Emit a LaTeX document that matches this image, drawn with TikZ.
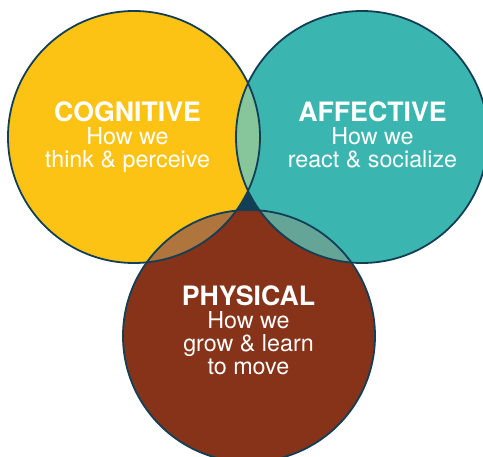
\documentclass[tikz,border=0pt]{standalone}
\usepackage{fontspec}
\setmainfont{TeX Gyre Heros}
\usetikzlibrary{positioning}
\definecolor{cogyellow}{HTML}{FCC314}
\definecolor{affteal}{HTML}{3AB5B0}
\definecolor{phybrown}{HTML}{86331A}
\definecolor{edgenavy}{HTML}{123F56}
\definecolor{cogaff}{HTML}{86C69A}
\definecolor{cogphy}{HTML}{B0753D}
\definecolor{affphy}{HTML}{65A597}
\tikzset{ring/.style = {draw = edgenavy, line width = 1.8pt}}
\tikzset{label/.style = {text = white, align = center, anchor = north, inner sep = 0pt, font = \fontsize{23.3}{22.7}\selectfont}}
\newcommand{\head}[1]{{\fontsize{26.7}{22.7}\selectfont\bfseries #1}}
\newcommand{\rad}{126}

\begin{document}
\begin{tikzpicture}[x = 1pt, y = -1pt]
	\clip (0,0) rectangle (483,457);

	\coordinate (cog) at (134,137);
	\coordinate (aff) at (362,137);
	\coordinate (phy) at (249,336);

	% the gap in the middle
	\fill[edgenavy](248,180) -- (222,218) -- (276,218) -- cycle;

	% discs
	\fill[cogyellow](cog) circle (\rad);
	\fill[affteal](aff) circle (\rad);
	\fill[phybrown](phy) circle (\rad);

	% overlaps
	\begin{scope}
		\clip (cog) circle (\rad);
		\fill[cogaff](aff) circle (\rad);
		\fill[cogphy](phy) circle (\rad);
	\end{scope}
	\begin{scope}
		\clip (aff) circle (\rad);
		\fill[affphy](phy) circle (\rad);
	\end{scope}

	% outlines
	\draw[ring](cog) circle (\rad);
	\draw[ring](aff) circle (\rad);
	\draw[ring](phy) circle (\rad);

	\node[label](cogtext) at (127.5,102){\head{COGNITIVE}\\How we\\think \& perceive};
	\node[label](afftext) at (372.5,102){\head{AFFECTIVE}\\How we\\react \& socialize};
	\node[label](phytext) at (248.5,286){\head{PHYSICAL}\\How we\\grow \& learn\\to move};

\end{tikzpicture}
\end{document}
